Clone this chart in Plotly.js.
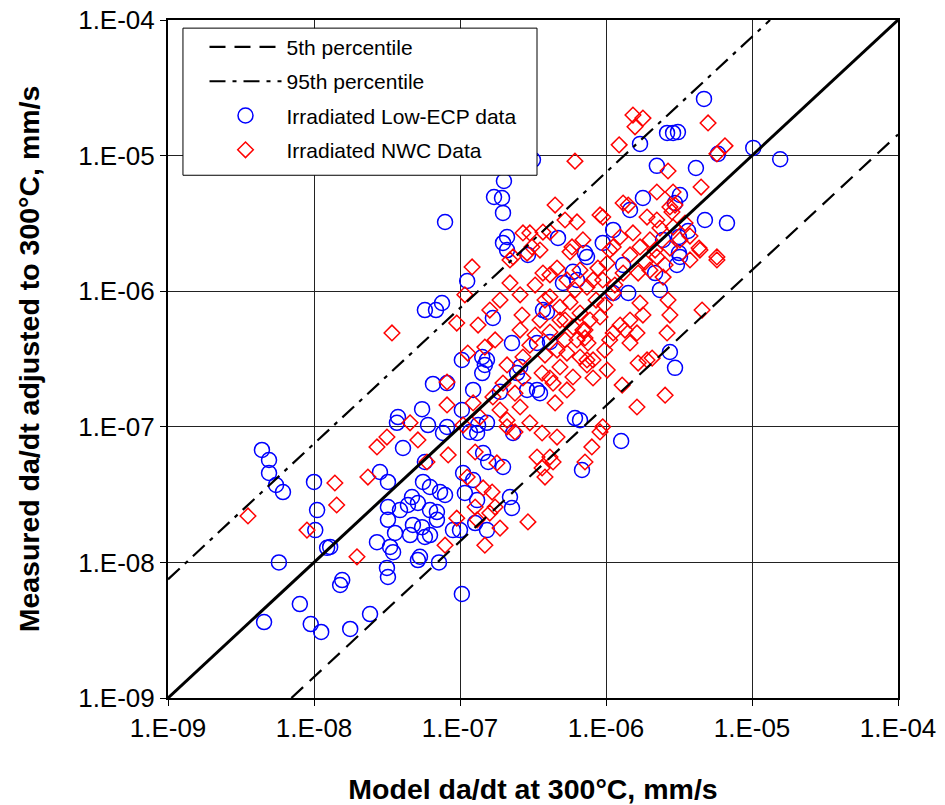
<!DOCTYPE html>
<html>
<head>
<meta charset="utf-8">
<script src="https://cdn.plot.ly/plotly-3.0.1.min.js"></script>
<style>html,body{margin:0;padding:0;background:#fff;}#chart{width:945px;height:805px;}</style>
</head>
<body>
<div id="chart"></div>
<script>
// Irradiated Low-ECP data (blue circles): model da/dt vs measured da/dt (mm/s)
const lowEcpModel = [4.69e-6,1.02e-5,1.56e-5,3.11e-6,2.88e-6,2.62e-6,5.85e-6,4.13e-6,3.21e-6,2.97e-6,4.76e-6,6.74e-6,3.65e-6,3.16e-6,3.16e-6,1.71e-6,2.23e-6,1.79e-6,1.46e-6,1.12e-6,4.69e-7,9.5e-7,2.46e-6,7.18e-7,3.16e-7,2.0e-7,1.71e-7,1.94e-7,1.97e-7,7.9e-8,2.1e-7,1.97e-7,2.92e-7,5.75e-8,6.85e-8,7.53e-8,6.53e-8,5.5e-8,3.76e-8,3.7e-8,6.04e-8,8.15e-8,1.12e-7,1.68e-7,3.7e-7,3.94e-7,5.07e-7,5.94e-7,6.33e-7,2.1e-7,3.37e-7,2.27e-7,4.13e-7,1.03e-7,1.42e-7,1.53e-7,1.48e-7,1.42e-7,2.58e-7,2.46e-7,1.23e-7,1.88e-7,2.88e-7,3.37e-7,3.53e-7,1.03e-7,6.13e-7,1.33e-7,1.53e-7,8.15e-8,3.21e-6,3.06e-6,2.17e-6,2.34e-6,1.42e-6,1.12e-6,7.41e-7,1.31e-6,2.74e-6,2.97e-6,6.64e-7,4.4e-9,4.92e-9,4.92e-9,5.5e-9,6.13e-9,1.0e-8,1.05e-8,1.02e-8,1.23e-8,5.75e-9,8.0e-9,4.55e-9,9.5e-9,1.12e-8,1.56e-8,1.51e-8,1.77e-8,2.42e-8,3.21e-8,1.03e-7,5.15e-8,7.18e-8,7.65e-8,4.07e-8,5.75e-8,2.83e-8,3.21e-8,5.58e-8,6.23e-8,4.69e-8,7.3e-8,7.9e-8,4.4e-8,5.15e-8,3.21e-8,3.88e-8,6.23e-8,6.95e-8,6.95e-8,3.21e-8,3.59e-8,4.76e-8,5.5e-8,6.23e-8,5.75e-8,4.55e-8,2.7e-8,3.32e-8,3.48e-8,8.95e-8,5.32e-8,1.29e-8,3.16e-8,1.17e-7,1.31e-7,2.31e-7,1.44e-7,1.56e-7,1.97e-7,1.05e-7,1.23e-7,1.08e-7,1.31e-7,2.2e-7,2.27e-7,1.27e-7,1.53e-7,1.0e-7,6.85e-7,1.27e-6];
const lowEcpMeasured = [2.62e-5,1.14e-5,9.4e-6,1.49e-5,1.47e-5,1.47e-5,1.03e-5,8.1e-6,5.12e-6,4.47e-6,3.35e-6,3.18e-6,2.78e-6,2.51e-6,1.91e-6,1.22e-5,8.4e-6,4.87e-6,3.97e-6,2.83e-6,2.47e-6,2.27e-6,2.39e-6,1.91e-6,9.3e-6,6.5e-6,4.95e-6,4.87e-6,3.78e-6,3.24e-6,2.51e-6,2.27e-6,1.85e-6,7.26e-7,7.26e-7,8.18e-7,2.07e-7,1.35e-7,1.18e-7,1.07e-7,1.03e-7,2.1e-7,1.19e-6,6.34e-7,7.26e-7,7.03e-7,1.15e-6,1.39e-6,1.21e-6,2.01e-6,4.15e-7,4.15e-7,4.22e-7,3.11e-7,3.27e-7,3.11e-7,2.86e-7,2.49e-7,2.76e-7,2.49e-7,1.87e-7,1.81e-7,1.87e-7,1.87e-7,1.77e-7,1.33e-7,1.16e-7,1.03e-7,1.07e-7,9.97e-8,1.79e-6,1.56e-6,1.36e-6,1.02e-6,9.7e-7,9.7e-7,1.79e-6,1.56e-6,3.56e-7,2.72e-7,1.12e-7,6.75e-8,5.69e-8,4.56e-8,3.72e-8,3.3e-8,3.92e-8,2.43e-8,1.73e-8,1.28e-8,1.0e-8,4.93e-9,3.63e-9,3.51e-9,3.07e-9,7.41e-9,6.81e-9,3.23e-9,4.16e-9,7.8e-9,5.85e-9,1.04e-8,1.0e-8,9.0e-8,6.98e-8,5.5e-8,4.64e-8,3.92e-8,3.92e-8,3.6e-8,3.03e-8,3.3e-8,3.14e-8,2.65e-8,2.74e-8,2.56e-8,2.43e-8,2.43e-8,2.35e-8,2.06e-8,2.06e-8,1.65e-8,1.89e-8,1.82e-8,1.59e-8,1.54e-8,1.59e-8,1.41e-8,1.3e-8,1.19e-8,1.73e-8,1.1e-8,1.3e-8,9.1e-9,9.16e-8,9.0e-8,9.0e-8,6.41e-8,5.5e-8,5.05e-8,4.56e-8,4.05e-8,3.25e-8,2.88e-8,3.03e-8,2.52e-8,1.95e-8,1.73e-8,1.73e-8,4.8e-8,7.86e-8];

// Irradiated NWC data (red diamonds)
const nwcModel = [1.53e-6,1.79e-6,1.58e-6,1.23e-6,6.13e-7,2.66e-6,4.48e-7,5.24e-7,6.33e-7,3.7e-7,4.13e-7,3.01e-7,9.1e-7,9.5e-7,2.23e-6,1.31e-6,1.42e-6,1.91e-6,2.23e-6,2.74e-6,6.95e-7,5.85e-7,5.67e-7,3.53e-7,1.12e-6,1.25e-6,1.53e-6,1.71e-6,2.88e-6,5.0e-6,6.53e-6,5.75e-6,4.48e-6,2.88e-6,2.97e-6,3.48e-6,2.83e-6,4.34e-6,5.75e-6,2.74e-6,2.7e-7,3.11e-7,2.31e-7,3.42e-8,4.55e-8,8.15e-8,8.15e-8,1.21e-7,2.2e-7,2.88e-7,2.2e-7,2.58e-7,1.08e-7,9.5e-8,1.33e-7,2.66e-7,1.74e-7,2.58e-7,3.7e-7,4.13e-7,4.62e-7,5.4e-7,6.64e-7,4.13e-7,4.84e-7,5.67e-7,6.64e-7,4.84e-7,5.94e-7,6.95e-7,4.13e-7,5.24e-7,6.33e-7,4.62e-7,5.4e-7,6.64e-7,7.41e-7,1.13e-7,1.48e-7,2.1e-7,2.7e-7,1.97e-7,2.7e-7,3.65e-7,4.13e-7,4.84e-7,5.94e-7,4.48e-7,4.34e-7,5.4e-7,1.23e-7,1.68e-7,2.38e-7,2.58e-7,1.88e-7,2.1e-7,1.37e-7,3.01e-7,5.75e-6,3.76e-6,4.4e-6,2.23e-6,2.46e-6,1.66e-6,1.31e-6,1.02e-6,8.15e-7,7.41e-7,1.12e-6,1.71e-6,2.66e-6,2.74e-6,4.55e-6,1.79e-6,1.46e-6,1.25e-6,1.35e-6,1.63e-6,1.12e-6,9.1e-7,7.18e-7,2.62e-6,7.18e-7,7.53e-7,9.8e-7,7.41e-7,8.15e-7,1.66e-6,1.91e-6,2.07e-6,1.02e-6,8.15e-7,1.29e-6,2.54e-6,1.63e-6,9.5e-7,1.05e-7,2.1e-7,2.38e-7,3.65e-7,4.62e-7,9.1e-7,8.0e-7,7.18e-7,3.37e-7,4.13e-7,4.34e-7,3.65e-7,3.82e-7,1.27e-7,1.12e-7,1.44e-7,1.66e-7,1.27e-7,1.74e-7,1.6e-7,1.31e-7,1.88e-7,1.48e-7,2.92e-7,1.79e-7,2.7e-8,3.16e-8,5.15e-8,5.94e-8,8.3e-8,1.39e-8,2.34e-8,1.43e-8,9.5e-8,7.9e-8,1.97e-8,3.53e-9,8.95e-9,8.8e-7,9.5e-7,1.06e-6,2.0e-6,2.17e-6,1.85e-6,1.46e-6,1.15e-6,8.55e-7,9.8e-7,6.13e-7,5.24e-7,3.53e-7,3.27e-7,3.82e-7,3.01e-7,7.77e-7,1.06e-6,1.46e-6,2.0e-6,2.54e-6,3.21e-6,3.76e-6,2.34e-6,3.27e-7,3.82e-7,1.88e-7,1.6e-7];
const nwcMeasured = [1.99e-5,1.89e-5,1.63e-5,1.2e-5,9.1e-6,7.7e-6,4.32e-6,3.35e-6,3.24e-6,2.73e-6,2.73e-6,2.69e-6,3.65e-6,3.52e-6,5.39e-6,4.47e-6,4.32e-6,3.52e-6,3.35e-6,4.18e-6,2.39e-6,2.12e-6,1.95e-6,2.01e-6,2.12e-6,2.51e-6,2.69e-6,2.12e-6,2.97e-6,1.74e-5,1.18e-5,1.03e-5,5.86e-6,5.39e-6,4.32e-6,3.18e-6,3.84e-6,2.08e-6,1.79e-6,2.08e-6,2.69e-6,2.12e-6,1.79e-6,4.92e-7,1.07e-7,1.45e-7,2.14e-7,1.51e-6,1.7e-6,1.91e-6,1.15e-6,9.4e-7,9.4e-7,5.82e-7,5.63e-7,6.67e-7,4.37e-7,5.17e-7,1.36e-6,1.32e-6,1.48e-6,1.21e-6,1.43e-6,9.1e-7,7.64e-7,8.3e-7,6.9e-7,6.13e-7,5.45e-7,5.17e-7,5.0e-7,4.37e-7,4.37e-7,3.68e-7,3.5e-7,3.27e-7,2.86e-7,3.5e-7,3.87e-7,2.86e-7,3.27e-7,2.1e-7,2.29e-7,2.49e-7,2.29e-7,2.76e-7,2.33e-7,1.5e-7,2.1e-7,1.87e-7,1.5e-7,1.66e-7,1.77e-7,1.4e-7,1.33e-7,1.12e-7,1.18e-7,1.07e-7,1.7e-6,1.7e-6,2.01e-6,1.79e-6,1.27e-6,1.36e-6,1.36e-6,1.61e-6,1.21e-6,1.07e-6,9.7e-7,8.18e-7,8.6e-7,6.67e-7,7.26e-7,6.67e-7,6.13e-7,5.63e-7,5.17e-7,4.92e-7,4.92e-7,6.46e-7,5.17e-7,4.92e-7,4.52e-7,4.15e-7,3.68e-7,3.11e-7,3.11e-7,2.95e-7,3.11e-7,3.21e-7,2.62e-7,2.29e-7,2.03e-7,1.71e-7,1.4e-7,1.0e-7,1.03e-7,1.0e-7,9.16e-8,9.0e-8,8.4e-8,9.16e-8,7.1e-8,5.5e-8,5.98e-8,5.98e-8,5.5e-8,4.97e-8,4.26e-8,6.52e-8,4.26e-8,3.54e-8,3.3e-8,2.56e-8,2.56e-8,2.31e-8,2.06e-8,1.79e-8,1.34e-8,1.99e-8,5.41e-8,7.1e-8,8.4e-8,8.0e-8,5.5e-8,6.2e-8,3.85e-8,4.26e-8,2.65e-8,2.12e-8,1.34e-8,1.1e-8,2.2e-8,1.73e-8,1.48e-6,1.21e-6,2.01e-6,2.39e-6,2.01e-6,1.64e-6,1.85e-6,1.11e-6,8.6e-7,7.9e-7,1.02e-6,6.13e-7,6.13e-7,4.75e-7,3.38e-7,4.0e-7,6.13e-7,4.37e-7,4.15e-7,1.43e-6,1.56e-6,2.39e-6,2.55e-6,2.92e-6,1.11e-6,8.6e-7,8.6e-7,7.26e-7];

// Reference lines (end points)
const unityModel = [1e-9, 1e-4];
const unityMeasured = [1e-9, 1e-4];
const p5Model = [7.0e-9, 1e-4];
const p5Measured = [1e-9, 1.43e-5];
const p95Model = [1e-9, 1.33e-5];
const p95Measured = [7.5e-9, 1e-4];

const tickVals = [1e-9, 1e-8, 1e-7, 1e-6, 1e-5, 1e-4];
const tickText = ['1.E-09', '1.E-08', '1.E-07', '1.E-06', '1.E-05', '1.E-04'];

const FONT = 'Liberation Sans, Arial, sans-serif';

const traces = [
  {x: lowEcpModel, y: lowEcpMeasured, type: 'scatter', mode: 'markers', name: 'Irradiated Low-ECP data',
   legendgroup: 'g3', legendrank: 3, cliponaxis: true,
   marker: {symbol: 'circle-open', size: 15, color: '#0000FF', line: {width: 1.5, color: '#0000FF'}}},
  {x: nwcModel, y: nwcMeasured, type: 'scatter', mode: 'markers', name: 'Irradiated NWC Data',
   legendgroup: 'g4', legendrank: 4, cliponaxis: true,
   marker: {symbol: 'diamond-open', size: 12, color: '#FF0000', line: {width: 1.5, color: '#FF0000'}}},
  {x: unityModel, y: unityMeasured, type: 'scatter', mode: 'lines', showlegend: false,
   line: {color: '#000', width: 3}, hoverinfo: 'skip'},
  {x: p5Model, y: p5Measured, type: 'scatter', mode: 'lines', name: '5th percentile',
   legendgroup: 'g1', legendrank: 1,
   line: {color: '#000', width: 2.2, dash: '16px,9px'}},
  {x: p95Model, y: p95Measured, type: 'scatter', mode: 'lines', name: '95th percentile',
   legendgroup: 'g2', legendrank: 2,
   line: {color: '#000', width: 2.2, dash: '16px,7px,4px,7px'}}
];

const layout = {
  width: 945, height: 805,
  margin: {l: 168, r: 47, t: 20, b: 107},
  paper_bgcolor: '#fff', plot_bgcolor: '#fff',
  font: {family: FONT, color: '#000'},
  showlegend: true,
  legend: {
    x: 0.05, y: 0.99, xanchor: 'left', yanchor: 'top',
    bgcolor: 'rgba(0,0,0,0)', borderwidth: 0,
    font: {family: FONT, size: 21, color: '#000'},
    traceorder: 'grouped', tracegroupgap: 4, itemwidth: 72
  },
  xaxis: {
    type: 'log', range: [-9, -4],
    tickvals: tickVals, ticktext: tickText,
    tickfont: {family: FONT, size: 26, color: '#000'},
    ticks: 'outside', ticklen: 6, tickcolor: '#000', tickwidth: 1,
    showgrid: true, gridcolor: '#222', gridwidth: 1,
    showline: true, linecolor: '#000', linewidth: 2, mirror: true,
    zeroline: false,
    title: {text: 'Model da/dt at 300°C, mm/s', font: {family: FONT, size: 28.5, color: '#000', weight: 'bold'}, standoff: 37}
  },
  yaxis: {
    type: 'log', range: [-9, -4],
    tickvals: tickVals, ticktext: tickText,
    tickfont: {family: FONT, size: 26, color: '#000'},
    ticks: 'outside', ticklen: 6, tickcolor: '#000', tickwidth: 1,
    showgrid: true, gridcolor: '#222', gridwidth: 1,
    showline: true, linecolor: '#000', linewidth: 2, mirror: true,
    zeroline: false,
    title: {text: 'Measured da/dt adjusted to 300°C, mm/s', font: {family: FONT, size: 28.5, color: '#000', weight: 'bold'}, standoff: 30}
  },
  shapes: [
    {type: 'rect', xref: 'paper', yref: 'paper', x0: 0.0205, x1: 0.5055, y0: 0.771, y1: 0.988,
     fillcolor: '#fff', line: {color: '#000', width: 1}, layer: 'above'}
  ]
};

Plotly.newPlot('chart', traces, layout, {displayModeBar: false, staticPlot: true});
</script>
</body>
</html>
